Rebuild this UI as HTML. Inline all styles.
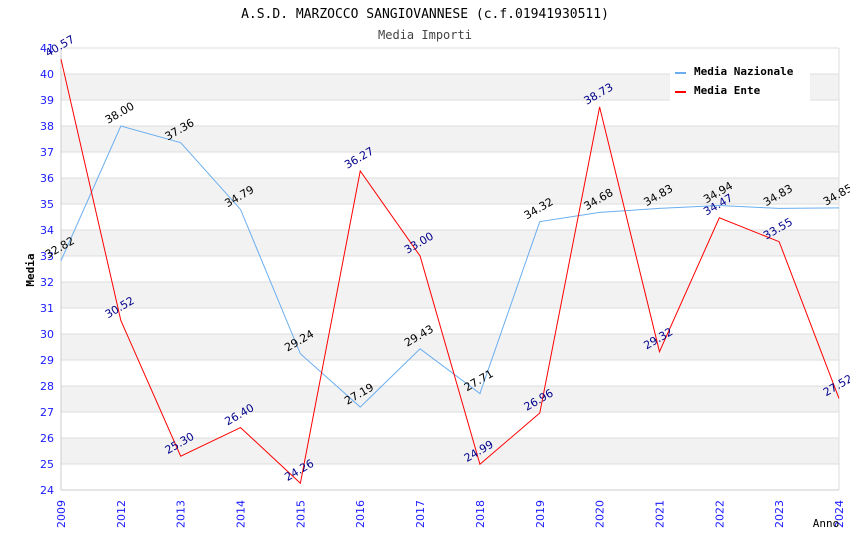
<!DOCTYPE html>
<html><head><meta charset="utf-8"><style>
body{margin:0;background:#fff;}
svg text{font-family:"DejaVu Sans","Liberation Sans",sans-serif;}
</style></head><body>
<svg id="chart" width="850" height="550" xmlns="http://www.w3.org/2000/svg">
<text x="425" y="18" text-anchor="middle" font-size="13" style="font-family:'DejaVu Sans Mono','Liberation Mono',monospace">A.S.D. MARZOCCO SANGIOVANNESE (c.f.01941930511)</text>
<text x="425" y="39" text-anchor="middle" font-size="12" fill="#444" style="font-family:'DejaVu Sans Mono','Liberation Mono',monospace">Media Importi</text>
<g id="grid"></g><g id="axes"></g><g id="series"></g><g id="labels"></g>
<text transform="translate(34,270) rotate(-90)" text-anchor="middle" font-size="11" font-weight="bold" style="font-family:'DejaVu Sans Mono',monospace">Media</text>
<text x="826" y="527" text-anchor="middle" font-size="11" style="font-family:'DejaVu Sans Mono',monospace">Anno</text>
<g>
<rect x="670" y="57" width="140" height="45" fill="#fff"/>
<line x1="675" y1="73" x2="686" y2="73" stroke="#6aaef0" stroke-width="2"/>
<text x="694" y="75" font-size="11" font-weight="bold" style="font-family:'DejaVu Sans Mono',monospace">Media Nazionale</text>
<line x1="675" y1="92" x2="686" y2="92" stroke="#f00" stroke-width="2"/>
<text x="694" y="94" font-size="11" font-weight="bold" style="font-family:'DejaVu Sans Mono',monospace">Media Ente</text>
</g>
</svg>
<script>
const categories=["2009","2012","2013","2014","2015","2016","2017","2018","2019","2020","2021","2022","2023","2024"];
const nazionale=[32.82,38.00,37.36,34.79,29.24,27.19,29.43,27.71,34.32,34.68,34.83,34.94,34.83,34.85];
const ente=[40.57,30.52,25.30,26.40,24.26,36.27,33.00,24.99,26.96,38.73,29.32,34.47,33.55,27.52];
const yTicks=[24,25,26,27,28,29,30,31,32,33,34,35,36,37,38,39,40,41];
const NS="http://www.w3.org/2000/svg";
const X0=61,X1=839,Y0=490,Y1=48,YMIN=24,YMAX=41;
const x=i=>X0+(X1-X0)*i/(categories.length-1);
const y=v=>Y0-(v-YMIN)*(Y0-Y1)/(YMAX-YMIN);
function mk(tag,attrs,parent){const e=document.createElementNS(NS,tag);for(const k in attrs)e.setAttribute(k,attrs[k]);parent.appendChild(e);return e;}
const grid=document.getElementById('grid'),axes=document.getElementById('axes'),series=document.getElementById('series'),labels=document.getElementById('labels');
for(let i=0;i<yTicks.length-1;i++){
 const v=yTicks[i];
 if(v%2===1){const r=mk('rect',{x:X0,y:y(v+1),width:X1-X0,height:y(v)-y(v+1),fill:'#f2f2f2'},grid);
 
 }
}
yTicks.forEach(v=>{
 const l=mk('line',{x1:X0,x2:X1,y1:y(v),y2:y(v),stroke:'#ddd'},grid);
 
 
 const t=mk('text',{x:X0-7,y:y(v)+4,'text-anchor':'end','font-size':11,fill:'#1a1aff'},axes);
 
 
 t.textContent=v;
});
mk('line',{x1:X0,x2:X0,y1:Y1,y2:Y0,stroke:'#ccc'},axes);
mk('line',{x1:X1,x2:X1,y1:Y1,y2:Y0,stroke:'#ddd'},axes);
mk('line',{x1:X0,x2:X1,y1:Y0,y2:Y0,stroke:'#ccc'},axes);
categories.forEach((c,i)=>{
 const t=mk('text',{transform:`translate(${x(i)+4},${Y0+38}) rotate(-90)`,'font-size':11,fill:'#1a1aff'},axes);
 
 
 t.textContent=c;
});
function drawSeries(vals,color,lblColor,name){
 const p=mk('polyline',{points:vals.map((v,i)=>x(i)+','+y(v)).join(' '),fill:'none',stroke:color,'stroke-width':1},series);
 
 
 vals.forEach((v,i)=>{
  const t=mk('text',{transform:`translate(${x(i)-13},${y(v)-2}) rotate(-30)`,'font-size':11,fill:lblColor},labels);
  
  
  t.textContent=v.toFixed(2);
 });
}
drawSeries(nazionale,'#6aaef0','#000','nazionale');
drawSeries(ente,'#f00','#00008b','ente');
</script>
</body></html>
